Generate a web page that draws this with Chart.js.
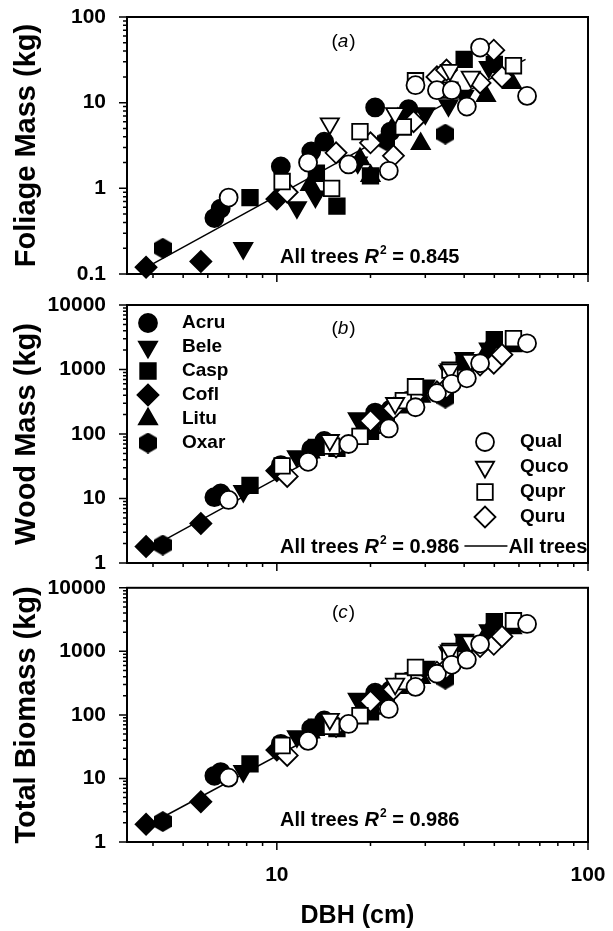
<!DOCTYPE html>
<html>
<head>
<meta charset="utf-8">
<script src="https://cdn.jsdelivr.net/npm/chart.js@4.4.1/dist/chart.umd.min.js"></script>
<style>
  body { margin: 0; background: #fff; }
  #wrap { position: relative; width: 613px; height: 931px; }
  canvas { position: absolute; left: 0; }
</style>
</head>
<body>
<div id="wrap">
  <canvas id="panelA" width="613" height="290" style="top:0px"></canvas>
  <canvas id="panelB" width="613" height="290" style="top:290px"></canvas>
  <canvas id="panelC" width="613" height="356" style="top:575px"></canvas>
</div>
<script>
// species codes, in legend order
const species = ['Acru', 'Bele', 'Casp', 'Cofl', 'Litu', 'Oxar', 'Qual', 'Quco', 'Qupr', 'Quru'];

// DBH (cm), foliage / wood / total biomass (kg) per tree
const acruDbh     = [6.3, 6.6, 10.3, 12.9, 14.2, 20.7, 23.2, 26.5];
const acruFoliage = [0.45, 0.58, 1.8, 2.7, 3.5, 8.8, 4.6, 8.4];
const acruWood    = [10.5, 12, 33, 58, 78, 215, 240, 330];
const acruTotal   = [11, 12.6, 35, 61, 82, 224, 245, 338];

const beleDbh     = [7.8, 11.6, 13.3, 18.2, 30, 35.6, 40, 48];
const beleFoliage = [0.2, 0.6, 0.8, 2.0, 7.5, 9.3, 12, 26];
const beleWood    = [13, 45, 55, 175, 560, 950, 1500, 2100];
const beleTotal   = [13, 46, 56, 178, 568, 960, 1510, 2130];

const caspDbh     = [8.2, 13.4, 15.6, 20.0, 40, 50];
const caspFoliage = [0.78, 1.5, 0.62, 1.4, 32, 28];
const caspWood    = [16, 62, 60, 110, 1300, 2900];
const caspTotal   = [17, 64, 61, 112, 1330, 2930];

const coflDbh     = [3.8, 5.7, 10.0];
const coflFoliage = [0.12, 0.14, 0.75];
const coflWood    = [1.8, 4.1, 27];
const coflTotal   = [1.9, 4.3, 28];

const lituDbh     = [12.8, 18.5, 20, 24.5, 29, 47, 57];
const lituFoliage = [1.1, 2.2, 1.4, 6.5, 3.3, 12, 17];
const lituWood    = [52, 105, 125, 260, 380, 1800, 2300];
const lituTotal   = [53, 107, 126, 267, 383, 1810, 2320];

const oxarDbh     = [4.3, 22.5, 34.8];
const oxarFoliage = [0.2, 3.6, 4.3];
const oxarWood    = [1.9, 170, 360];
const oxarTotal   = [2.1, 174, 365];

const qualDbh     = [7.0, 12.6, 17, 22.9, 27.9, 32.7, 36.5, 40.8, 45, 63.7];
const qualFoliage = [0.78, 2.0, 1.9, 1.6, 16, 14, 14, 9, 44, 12];
const qualWood    = [9.5, 37, 70, 122, 260, 430, 600, 730, 1250, 2550];
const qualTotal   = [10.3, 39, 72, 124, 276, 444, 614, 740, 1300, 2700];

const qucoDbh     = [14.8, 24, 36, 42];
const qucoFoliage = [5.7, 7.5, 24, 20];
const qucoWood    = [80, 300, 1000, 1400];
const qucoTotal   = [86, 308, 1024, 1420];

const quprDbh     = [10.4, 15, 18.5, 25.5, 27.9, 36, 57.6];
const quprFoliage = [1.2, 1.0, 4.6, 5.2, 18, 14, 27];
const quprWood    = [32, 65, 92, 330, 540, 980, 3000];
const quprTotal   = [33, 66, 97, 335, 558, 994, 3030];

const quruDbh     = [10.8, 15.5, 20, 23.7, 27.5, 32.7, 35.1, 45, 49.8, 52.9];
const quruFoliage = [0.9, 2.6, 3.4, 2.4, 6, 20, 24, 17, 41, 20];
const quruWood    = [22, 63, 160, 250, 380, 450, 520, 1170, 1250, 1700];
const quruTotal   = [23, 66, 163, 252, 386, 470, 544, 1190, 1290, 1720];

// "All trees" power-law fit, end points
const fitDbh     = [3.9, 63];
const fitFoliage = [0.125, 32];
const fitWood    = [1.7, 2650];
const fitTotal   = [1.9, 2850];

const dbhBySpecies = [acruDbh, beleDbh, caspDbh, coflDbh, lituDbh, oxarDbh, qualDbh, qucoDbh, quprDbh, quruDbh];
const foliageBySpecies = [acruFoliage, beleFoliage, caspFoliage, coflFoliage, lituFoliage, oxarFoliage, qualFoliage, qucoFoliage, quprFoliage, quruFoliage];
const woodBySpecies = [acruWood, beleWood, caspWood, coflWood, lituWood, oxarWood, qualWood, qucoWood, quprWood, quruWood];
const totalBySpecies = [acruTotal, beleTotal, caspTotal, coflTotal, lituTotal, oxarTotal, qualTotal, qucoTotal, quprTotal, quruTotal];

const FONT = '"Liberation Sans", Arial, sans-serif';
Chart.defaults.font.family = FONT;
Chart.defaults.color = '#000';

// hexagon marker for Oxar (no built-in style for it)
const hexagon = (function () {
    const c = document.createElement('canvas');
    c.width = 18;
    c.height = 21;
    const g = c.getContext('2d');
    g.fillStyle = '#000';
    g.beginPath();
    g.moveTo(9, 0);
    g.lineTo(18, 5.25);
    g.lineTo(18, 15.75);
    g.lineTo(9, 21);
    g.lineTo(0, 15.75);
    g.lineTo(0, 5.25);
    g.closePath();
    g.fill();
    return c;
})();

const markers = [
    { style: 'circle',   radius: 9,    rotation: 0,   filled: true },
    { style: 'triangle', radius: 10.5, rotation: 180, filled: true },
    { style: 'rect',     radius: 11,   rotation: 0,   filled: true },
    { style: 'rectRot',  radius: 10.5, rotation: 0,   filled: true },
    { style: 'triangle', radius: 10.5, rotation: 0,   filled: true },
    { style: hexagon,    radius: 9,    rotation: 0,   filled: true },
    { style: 'circle',   radius: 9,    rotation: 0,   filled: false },
    { style: 'triangle', radius: 10.5, rotation: 180, filled: false },
    { style: 'rect',     radius: 11,   rotation: 0,   filled: false },
    { style: 'rectRot',  radius: 10.5, rotation: 0,   filled: false }
];

function buildDatasets(valuesBySpecies, fitY) {
    const sets = species.map((name, i) => ({
        label: name,
        data: dbhBySpecies[i].map((d, j) => ({ x: d, y: valuesBySpecies[i][j] })),
        pointStyle: markers[i].style,
        pointRadius: markers[i].radius,
        pointRotation: markers[i].rotation,
        backgroundColor: markers[i].filled ? '#000' : '#fff',
        borderColor: '#000',
        borderWidth: 1.8,
        showLine: false,
        clip: false,
        order: markers[i].filled ? 2 : 1
    }));
    sets.push({
        label: 'All trees',
        data: fitDbh.map((d, j) => ({ x: d, y: fitY[j] })),
        showLine: true,
        pointRadius: 0,
        borderColor: '#000',
        borderWidth: 1.5,
        order: 3
    });
    return sets;
}

function decades(min, max) {
    const out = [];
    for (let e = Math.round(Math.log10(min)); e <= Math.round(Math.log10(max)); e++) {
        out.push({ value: Math.pow(10, e) });
    }
    return out;
}

function logSteps(min, max) {
    const out = [];
    for (let e = Math.floor(Math.log10(min)); e <= Math.ceil(Math.log10(max)); e++) {
        for (let k = 1; k <= 9; k++) {
            const v = k * Math.pow(10, e);
            if (v >= min * 0.999 && v <= max * 1.001) out.push({ v: v, major: k === 1 });
        }
    }
    return out;
}

function drawR2(ctx, x, y, value) {
    ctx.textAlign = 'left';
    ctx.textBaseline = 'alphabetic';
    ctx.font = 'bold 20px ' + FONT;
    ctx.fillText('All trees ', x, y);
    x += ctx.measureText('All trees ').width;
    ctx.font = 'italic bold 20px ' + FONT;
    ctx.fillText('R', x, y);
    x += ctx.measureText('R').width + 1;
    ctx.font = 'bold 12px ' + FONT;
    ctx.fillText('2', x, y - 9);
    x += ctx.measureText('2').width;
    ctx.font = 'bold 20px ' + FONT;
    ctx.fillText(' = ' + value, x, y);
    return x + ctx.measureText(' = ' + value).width;
}

function drawLetter(ctx, cx, cy, letter) {
    ctx.textBaseline = 'middle';
    ctx.textAlign = 'left';
    ctx.font = '19px ' + FONT;
    const wp = ctx.measureText('(').width;
    ctx.font = 'italic 19px ' + FONT;
    const wl = ctx.measureText(letter).width;
    let x = cx - (wp * 2 + wl) / 2;
    ctx.font = '19px ' + FONT;
    ctx.fillText('(', x, cy);
    ctx.font = 'italic 19px ' + FONT;
    ctx.fillText(letter, x + wp, cy);
    ctx.font = '19px ' + FONT;
    ctx.fillText(')', x + wp + wl + 1, cy);
}

function drawLegend(ctx, a) {
    const rows = [
        { idx: [0, 1, 2, 3, 4, 5], mx: a.left + 21, tx: a.left + 55, y0: a.top + 18, dy: 24 },
        { idx: [6, 7, 8, 9], mx: a.left + 358, tx: a.left + 393, y0: a.top + 137, dy: 25 }
    ];
    ctx.font = 'bold 19px ' + FONT;
    ctx.textBaseline = 'middle';
    ctx.textAlign = 'left';
    rows.forEach(col => {
        col.idx.forEach((i, r) => {
            const y = col.y0 + r * col.dy;
            const m = markers[i];
            ctx.fillStyle = m.filled ? '#000' : '#fff';
            ctx.strokeStyle = '#000';
            ctx.lineWidth = 1.8;
            Chart.helpers.drawPoint(ctx, {
                pointStyle: m.style, rotation: m.rotation, radius: m.radius, borderWidth: 1.8
            }, col.mx, y);
            ctx.fillStyle = '#000';
            ctx.fillText(species[i], col.tx, y);
        });
    });
}

function panelExtras(chart, p) {
    const { ctx, chartArea: a, scales } = chart;
    ctx.save();
    ctx.strokeStyle = '#000';
    ctx.fillStyle = '#000';
    ctx.lineWidth = 2;
    ctx.strokeRect(a.left, a.top, a.right - a.left, a.bottom - a.top);

    // outward tick marks, long at each decade
    ctx.lineWidth = 1.5;
    ctx.beginPath();
    logSteps(scales.x.min, scales.x.max).forEach(s => {
        const px = scales.x.getPixelForValue(s.v);
        ctx.moveTo(px, a.bottom);
        ctx.lineTo(px, a.bottom + (s.major ? 8 : 4));
    });
    logSteps(scales.y.min, scales.y.max).forEach(s => {
        const py = scales.y.getPixelForValue(s.v);
        ctx.moveTo(a.left - (s.major ? 8 : 4), py);
        ctx.lineTo(a.left, py);
    });
    ctx.stroke();

    drawLetter(ctx, a.left + 216, a.top + p.letterDy, p.letter);
    const end = drawR2(ctx, a.left + 153, a.bottom - p.r2Dy, p.r2);

    if (p.legend) {
        drawLegend(ctx, a);
        const y = a.bottom - p.r2Dy - 7;
        ctx.lineWidth = 1.5;
        ctx.beginPath();
        ctx.moveTo(end + 5, y);
        ctx.lineTo(end + 48, y);
        ctx.stroke();
        ctx.font = 'bold 20px ' + FONT;
        ctx.textBaseline = 'alphabetic';
        ctx.fillText('All trees', end + 49, a.bottom - p.r2Dy);
    }
    ctx.restore();
}

function makePanel(id, p) {
    return new Chart(document.getElementById(id), {
        type: 'scatter',
        data: { datasets: buildDatasets(p.values, p.fit) },
        options: {
            responsive: false,
            animation: false,
            devicePixelRatio: 1,
            events: [],
            layout: { padding: { top: p.padTop, right: 25, left: 0, bottom: 0 } },
            scales: {
                x: {
                    type: 'logarithmic',
                    position: 'bottom',
                    min: 3.3,
                    max: 100,
                    afterBuildTicks: axis => { axis.ticks = decades(10, 100); },
                    afterFit: axis => { axis.height = p.xHeight; axis.paddingLeft = 0; axis.paddingRight = 0; },
                    grid: { display: false, drawTicks: false },
                    border: { display: false },
                    ticks: {
                        display: p.xLabels,
                        padding: 21,
                        color: '#000',
                        font: { size: 21, weight: 'bold' },
                        callback: v => String(v)
                    },
                    title: {
                        display: p.xLabels,
                        text: 'DBH (cm)',
                        color: '#000',
                        font: { size: 25, weight: 'bold' },
                        padding: { top: 0, bottom: 0 }
                    }
                },
                y: {
                    type: 'logarithmic',
                    position: 'left',
                    min: p.yMin,
                    max: p.yMax,
                    afterBuildTicks: axis => { axis.ticks = decades(p.yMin, p.yMax); },
                    afterFit: axis => { axis.width = 127; axis.paddingTop = 0; axis.paddingBottom = 0; },
                    grid: { display: false, drawTicks: false },
                    border: { display: false },
                    ticks: {
                        padding: 21,
                        color: '#000',
                        font: { size: 21, weight: 'bold' },
                        callback: v => String(v)
                    },
                    title: {
                        display: true,
                        text: p.yTitle,
                        color: '#000',
                        font: { size: 29, weight: 'bold' },
                        padding: { top: 10, bottom: 0 }
                    }
                }
            },
            plugins: {
                legend: { display: false },
                tooltip: { enabled: false }
            }
        },
        plugins: [{ id: 'extras' + id, afterDraw: chart => panelExtras(chart, p) }]
    });
}

makePanel('panelA', {
    values: foliageBySpecies, fit: fitFoliage, yMin: 0.1, yMax: 100,
    yTitle: 'Foliage Mass (kg)', padTop: 17, xHeight: 16, xLabels: false,
    letter: 'a', letterDy: 25, r2: '0.845', r2Dy: 11, legend: false
});
makePanel('panelB', {
    values: woodBySpecies, fit: fitWood, yMin: 1, yMax: 10000,
    yTitle: 'Wood Mass (kg)', padTop: 15, xHeight: 17, xLabels: false,
    letter: 'b', letterDy: 24, r2: '0.986', r2Dy: 10, legend: true
});
makePanel('panelC', {
    values: totalBySpecies, fit: fitTotal, yMin: 1, yMax: 10000,
    yTitle: 'Total Biomass (kg)', padTop: 10, xHeight: 89, xLabels: true,
    letter: 'c', letterDy: 25, r2: '0.986', r2Dy: 16, legend: false
});
</script>
</body>
</html>
